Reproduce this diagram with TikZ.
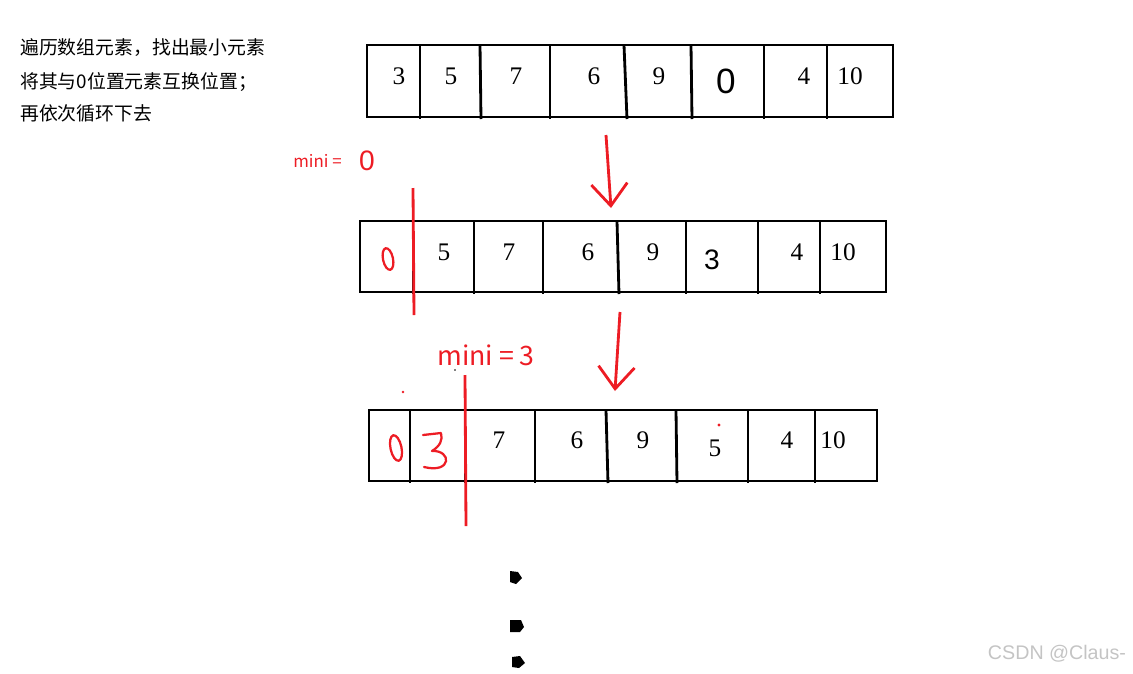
\documentclass[tikz,border=0pt]{standalone}
\usepackage{fontspec}
\usepackage{tikz}
\usetikzlibrary{arrows.meta}
\setmainfont{Liberation Serif}
\newfontfamily\cjk{Noto Sans CJK SC}
\newfontfamily\sansnum{Liberation Sans}
\definecolor{penred}{RGB}{237,28,36}
\definecolor{markgray}{RGB}{196,196,196}
\tikzset{
  cellbox/.style={draw=black, line width=2pt},
  cellnum/.style={inner sep=0pt, font=\fontsize{18}{20}\selectfont},
  handnum/.style={inner sep=0pt, font=\sansnum\fontsize{20}{22}\selectfont},
  tasktext/.style={inner sep=0pt, anchor=west, font=\cjk\fontsize{13.4}{15}\selectfont},
  penline/.style={draw=penred, line width=2pt},
  penarrow/.style={draw=penred, line width=2pt,
    -{Straight Barb[length=5.5mm, width=9mm, line width=2pt]}},
  minilabel/.style={inner sep=0pt, anchor=west, text=penred}
}

\begin{document}
\begin{tikzpicture}[x=0.025cm, y=-0.025cm]
  \useasboundingbox (0,0) rectangle (1133,673);
  % task description
  \node[tasktext] (line1) at (20,48) {遍历数组元素，找出最小元素};
  \node[tasktext] (line2) at (20,82) {将其与0位置元素互换位置；};
  \node[tasktext] (line3) at (20,113) {再依次循环下去};

  % first array
  \draw[cellbox] (367,45) rectangle (893,117);
  \foreach \xa/\xb in {420/420, 480/481, 550/550, 624/627, 691/692, 764/764, 827/827}
    \draw[cellbox] (\xa,45) -- (\xb,119);
  \node[cellnum] (a1) at (399,76) {3};
  \node[cellnum] (a2) at (451,76) {5};
  \node[cellnum] (a3) at (516,76) {7};
  \node[cellnum] (a4) at (594,76) {6};
  \node[cellnum] (a5) at (659,76) {9};
  \node[handnum, font=\sansnum\fontsize{25}{27}\selectfont] (a6) at (726,81) {0};
  \node[cellnum] (a7) at (804,76) {4};
  \node[cellnum] (a8) at (850,76) {10};

  % first swap
  \node[minilabel, font=\cjk\fontsize{12}{14}\selectfont] (mini1) at (293,161) {mini =};
  \node[handnum, text=penred] (minival1) at (367,161) {0};
  \coordinate (arrow1s) at (606,135);
  \coordinate (arrow1e) at (611,208);
  \draw[penarrow] (arrow1s) -- (arrow1e);

  % second array
  \draw[cellbox] (360,221) rectangle (886,292);
  \foreach \xa/\xb in {413/413, 474/474, 543/543, 617/619, 686/686, 758/758, 820/820}
    \draw[cellbox] (\xa,221) -- (\xb,294);
  \draw[penred, line width=1.6pt, rotate around={12:(388,259)}] (388,259) ellipse (5 and 11);
  \node[cellnum] (b2) at (444,252) {5};
  \node[cellnum] (b3) at (509,252) {7};
  \node[cellnum] (b4) at (588,252) {6};
  \node[cellnum] (b5) at (653,252) {9};
  \node[handnum] (b6) at (712,260) {3};
  \node[cellnum] (b7) at (797,252) {4};
  \node[cellnum] (b8) at (843,252) {10};
  \coordinate (cut1t) at (413,188);
  \coordinate (cut1b) at (414,315);
  \draw[penline] (cut1t) -- (cut1b);

  % second swap
  \node[minilabel, font=\cjk\fontsize{19}{21}\selectfont] (mini2) at (437,355) {mini = 3};
  \coordinate (arrow2s) at (620,312);
  \coordinate (arrow2e) at (615,391);
  \draw[penarrow] (arrow2s) -- (arrow2e);

  % third array
  \draw[cellbox] (369,410) rectangle (877,481);
  \foreach \xa/\xb in {410/410, 465/465, 535/535, 606/608, 676/677, 748/748, 815/815}
    \draw[cellbox] (\xa,410) -- (\xb,483);
  \draw[penred, line width=1.6pt, rotate around={12:(396,448)}] (396,448) ellipse (5.5 and 13);
  \draw[penred, line width=1.6pt, line cap=round, line join=round]
    (423,435) -- (441,433) .. controls (443,440) and (440,446) .. (432,451)
    .. controls (452,450) and (452,474) .. (424,467);
  \node[cellnum] (c3) at (499,440) {7};
  \node[cellnum] (c4) at (577,440) {6};
  \node[cellnum] (c5) at (643,440) {9};
  \node[cellnum] (c6) at (715,448) {5};
  \node[cellnum] (c7) at (787,440) {4};
  \node[cellnum] (c8) at (833,440) {10};
  \coordinate (cut2t) at (465,375);
  \coordinate (cut2b) at (466,526);
  \draw[penline] (cut2t) -- (cut2b);
  \fill[penred] (403,392) circle (1.3);
  \fill[penred] (719,425) circle (1.6);
  \fill[black] (455,370) circle (0.8);

  % stray marks
  \fill[black] (510,571) -- (518,572) -- (522,578) -- (516,584) -- (510,582) -- cycle;
  \fill[black] (510,620) -- (521,620) -- (524,627) -- (520,632) -- (510,632) -- cycle;
  \fill[black] (512,657) -- (520,656) -- (525,663) -- (519,668) -- (512,667) -- cycle;

  % watermark
  \node[inner sep=0pt, text=markgray, font=\sansnum\fontsize{14}{16}\selectfont] (mark) at (1057,654) {CSDN @Claus-};
\end{tikzpicture}
\end{document}
